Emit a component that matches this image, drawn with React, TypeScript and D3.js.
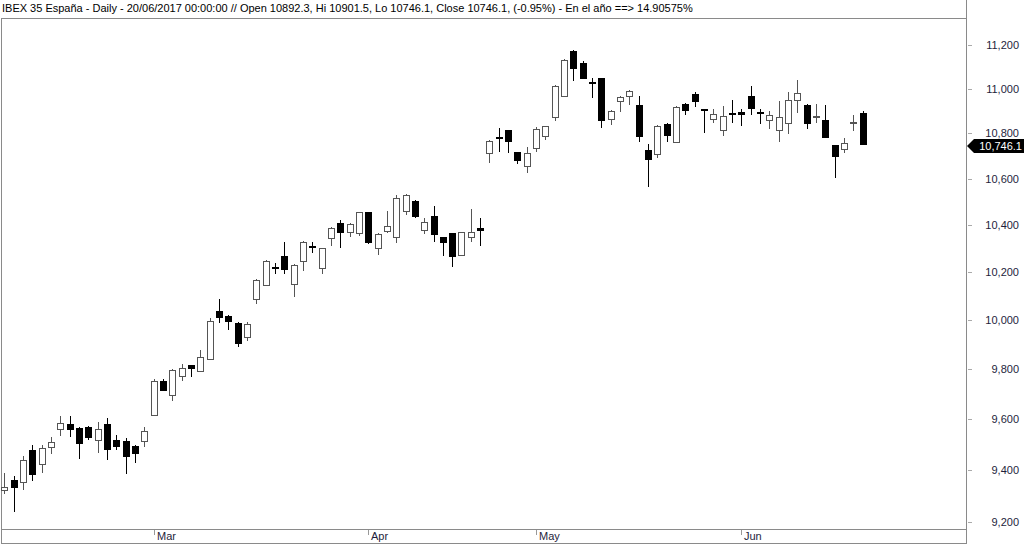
import React from "react";
import * as d3 from "d3";

const dates: string[] = [
  "2017-02-07","2017-02-08","2017-02-09","2017-02-10","2017-02-13","2017-02-14","2017-02-15","2017-02-16","2017-02-17",
  "2017-02-20","2017-02-21","2017-02-22","2017-02-23","2017-02-24","2017-02-27","2017-02-28",
  "2017-03-01","2017-03-02","2017-03-03","2017-03-06","2017-03-07","2017-03-08","2017-03-09","2017-03-10",
  "2017-03-13","2017-03-14","2017-03-15","2017-03-16","2017-03-17","2017-03-20","2017-03-21","2017-03-22",
  "2017-03-23","2017-03-24","2017-03-27","2017-03-28","2017-03-29","2017-03-30","2017-03-31",
  "2017-04-03","2017-04-04","2017-04-05","2017-04-06","2017-04-07","2017-04-10","2017-04-11","2017-04-12",
  "2017-04-13","2017-04-18","2017-04-19","2017-04-20","2017-04-21","2017-04-24","2017-04-25","2017-04-26",
  "2017-04-27","2017-04-28",
  "2017-05-02","2017-05-03","2017-05-04","2017-05-05","2017-05-08","2017-05-09","2017-05-10","2017-05-11",
  "2017-05-12","2017-05-15","2017-05-16","2017-05-17","2017-05-18","2017-05-19","2017-05-22","2017-05-23",
  "2017-05-24","2017-05-25","2017-05-26","2017-05-29","2017-05-30","2017-05-31",
  "2017-06-01","2017-06-02","2017-06-05","2017-06-06","2017-06-07","2017-06-08","2017-06-09","2017-06-12",
  "2017-06-13","2017-06-14","2017-06-15","2017-06-16","2017-06-19","2017-06-20",
];

const opens: number[] = [
  9322, 9361, 9354, 9477, 9423, 9488, 9559, 9579, 9565, 9567, 9518, 9578, 9518, 9513, 9492, 9513,
  9615, 9751, 9695, 9771, 9814, 9792, 9838, 10037, 10017, 9988, 9928, 10085, 10146, 10219, 10267, 10149,
  10247, 10311, 10215, 10342, 10406, 10370, 10366,
  10453, 10302, 10374, 10346, 10460, 10502, 10377, 10439, 10346, 10363, 10270, 10346, 10387, 10711, 10784,
  10812, 10715, 10655,
  10736, 10789, 10871, 10968, 11174, 11116, 11031, 11047, 10863, 10943, 10966, 10925, 10725, 10708, 10841,
  10760, 10930, 10975, 10907, 10863, 10812, 10890,
  10893, 10966, 10893, 10860, 10812, 10844, 10950, 10926, 10874, 10860, 10748, 10729, 10844, 10892.3,
];

const highs: number[] = [
  9386, 9376, 9454, 9497, 9497, 9527, 9611, 9611, 9568, 9572, 9587, 9602, 9536, 9523, 9497, 9568,
  9759, 9758, 9800, 9818, 9816, 9876, 10006, 10087, 10020, 9992, 9992, 10168, 10249, 10236, 10328, 10232,
  10331, 10327, 10300, 10392, 10420, 10406, 10456,
  10456, 10363, 10458, 10528, 10531, 10506, 10427, 10481, 10349, 10366, 10370, 10466, 10427, 10768, 10824,
  10815, 10716, 10737,
  10827, 10834, 11018, 11134, 11177, 11126, 11048, 11048, 10904, 10966, 10995, 10966, 10751, 10837, 10847,
  10923, 10937, 10983, 10909, 10907, 10921, 10950,
  10907, 11011, 10907, 10900, 10943, 10984, 11040, 10929, 10930, 10926, 10748, 10777, 10883, 10901.5,
];

const lows: number[] = [
  9307, 9239, 9322, 9357, 9389, 9462, 9532, 9527, 9441, 9516, 9467, 9438, 9477, 9384, 9428, 9488,
  9611, 9711, 9672, 9752, 9768, 9788, 9835, 9988, 9958, 9887, 9914, 10065, 10144, 10191, 10191, 10093,
  10204, 10278, 10191, 10310, 10302, 10349, 10352,
  10318, 10271, 10363, 10320, 10442, 10427, 10359, 10327, 10266, 10219, 10266, 10327, 10309, 10669, 10718,
  10711, 10664, 10622,
  10718, 10769, 10855, 10965, 11036, 11043, 10958, 10823, 10837, 10893, 10926, 10762, 10564, 10689, 10760,
  10759, 10881, 10916, 10800, 10844, 10789, 10846,
  10834, 10881, 10841, 10820, 10759, 10796, 10890, 10817, 10846, 10777, 10601, 10711, 10811, 10746.1,
];

const closes: number[] = [
  9333, 9329, 9438, 9379, 9484, 9510, 9582, 9556, 9499, 9523, 9561, 9477, 9490, 9448, 9462, 9553,
  9751, 9712, 9797, 9802, 9798, 9849, 9996, 10006, 9992, 9901, 9983, 10165, 10245, 10216, 10207, 10227,
  10324, 10309, 10299, 10385, 10366, 10403, 10455,
  10320, 10359, 10396, 10514, 10528, 10434, 10413, 10356, 10320, 10261, 10368, 10370, 10373, 10765, 10781,
  10760, 10678, 10711,
  10819, 10831, 11011, 11131, 11090, 11045, 11029, 10856, 10900, 10961, 10991, 10782, 10681, 10832, 10789,
  10916, 10901, 10939, 10898, 10886, 10879, 10887,
  10883, 10910, 10890, 10883, 10874, 10950, 10980, 10839, 10879, 10780, 10694, 10755, 10849, 10746.1,
];

const yTicks: number[] = [9200, 9400, 9600, 9800, 10000, 10200, 10400, 10600, 10800, 11000, 11200];

const monthTicks: { label: string; date: string }[] = [
  { label: "Mar", date: "2017-03-01" },
  { label: "Apr", date: "2017-04-03" },
  { label: "May", date: "2017-05-02" },
  { label: "Jun", date: "2017-06-01" },
];

const titleText =
  "IBEX 35 España - Daily - 20/06/2017 00:00:00 // Open 10892.3, Hi 10901.5, Lo 10746.1, Close 10746.1, (-0.95%) - En el año ==> 14.90575%";

const lastPrice = 10746.1;

const W = 1024;
const H = 544;
const FONT = "'Liberation Sans', Arial, sans-serif";

export default function App() {
  const x = d3.scalePoint<string>().domain(dates).range([4.3, 862.7]);
  const y = d3.scaleLog().domain([9200, 11200]).range([522, 45]);
  const fmt = d3.format(",");
  const bodyW = 7;
  const frameR = 966;
  const frameTop = 18;
  const frameBot = 529;

  const candles = dates.map((d, i) => {
    const o = opens[i], c = closes[i], hi = highs[i], lo = lows[i];
    const cx = Math.round(x(d) as number);
    const up = c >= o;
    const yTop = Math.round(y(Math.max(o, c)));
    const yBot = Math.round(y(Math.min(o, c)));
    const bh = Math.max(1, yBot - yTop);
    const col = up ? "#555" : "#000";
    return (
      <g key={d}>
        <line x1={cx + 0.5} x2={cx + 0.5} y1={Math.round(y(hi))} y2={Math.round(y(lo))} stroke={col} strokeWidth={1} />
        {up ? (
          <rect x={cx - 3 + 0.5} y={yTop + 0.5} width={bodyW - 1} height={Math.max(1, bh)} fill="#fff" stroke={col} strokeWidth={1} />
        ) : (
          <rect x={cx - 3} y={yTop} width={bodyW} height={Math.max(2, bh)} fill="#000" />
        )}
      </g>
    );
  });

  const py = Math.round(y(lastPrice));

  return (
    <svg
      width={W}
      height={H}
      style={{ position: "absolute", left: 0, top: 0, background: "#fff" }}
      fontFamily={FONT}
    >
      <rect x={0} y={0} width={W} height={H} fill="#fff" />
      <text x={2} y={12} fontSize={11} fill="#000">{titleText}</text>

      {/* frame */}
      <line x1={1.5} x2={1.5} y1={frameTop} y2={543} stroke="#8a8a8a" />
      <line x1={1} x2={frameR} y1={frameTop + 0.5} y2={frameTop + 0.5} stroke="#8a8a8a" />
      <line x1={1} x2={frameR} y1={frameBot + 0.5} y2={frameBot + 0.5} stroke="#8a8a8a" />
      <line x1={1} x2={frameR} y1={543.5} y2={543.5} stroke="#8a8a8a" />
      <line x1={frameR + 0.5} x2={frameR + 0.5} y1={0} y2={H} stroke="#8a8a8a" />

      {/* y axis */}
      {yTicks.map((t) => {
        const ty = Math.round(y(t)) + 0.5;
        return (
          <g key={t}>
            <line x1={968} x2={972} y1={ty} y2={ty} stroke="#aaa" />
            <text x={1019} y={ty} dy="0.35em" textAnchor="end" fontSize={11} fill="#1e1e3c">
              {fmt(t)}
            </text>
          </g>
        );
      })}

      {/* x axis months */}
      {monthTicks.map((m) => {
        const mx = Math.round(x(m.date) as number) + 0.5;
        return (
          <g key={m.label}>
            <line x1={mx} x2={mx} y1={530} y2={535} stroke="#999" />
            <text x={mx + 2.5} y={540} fontSize={11} fill="#1e1e3c">
              {m.label}
            </text>
          </g>
        );
      })}

      {candles}

      {/* last price marker */}
      <path
        d={`M967,${py + 1} L974,${py - 6} L1024,${py - 6} L1024,${py + 8} L974,${py + 8} Z`}
        fill="#000"
      />
      <text x={1022} y={py + 1} dy="0.35em" textAnchor="end" fontSize={11} fill="#fff">
        {fmt(lastPrice)}
      </text>
    </svg>
  );
}
